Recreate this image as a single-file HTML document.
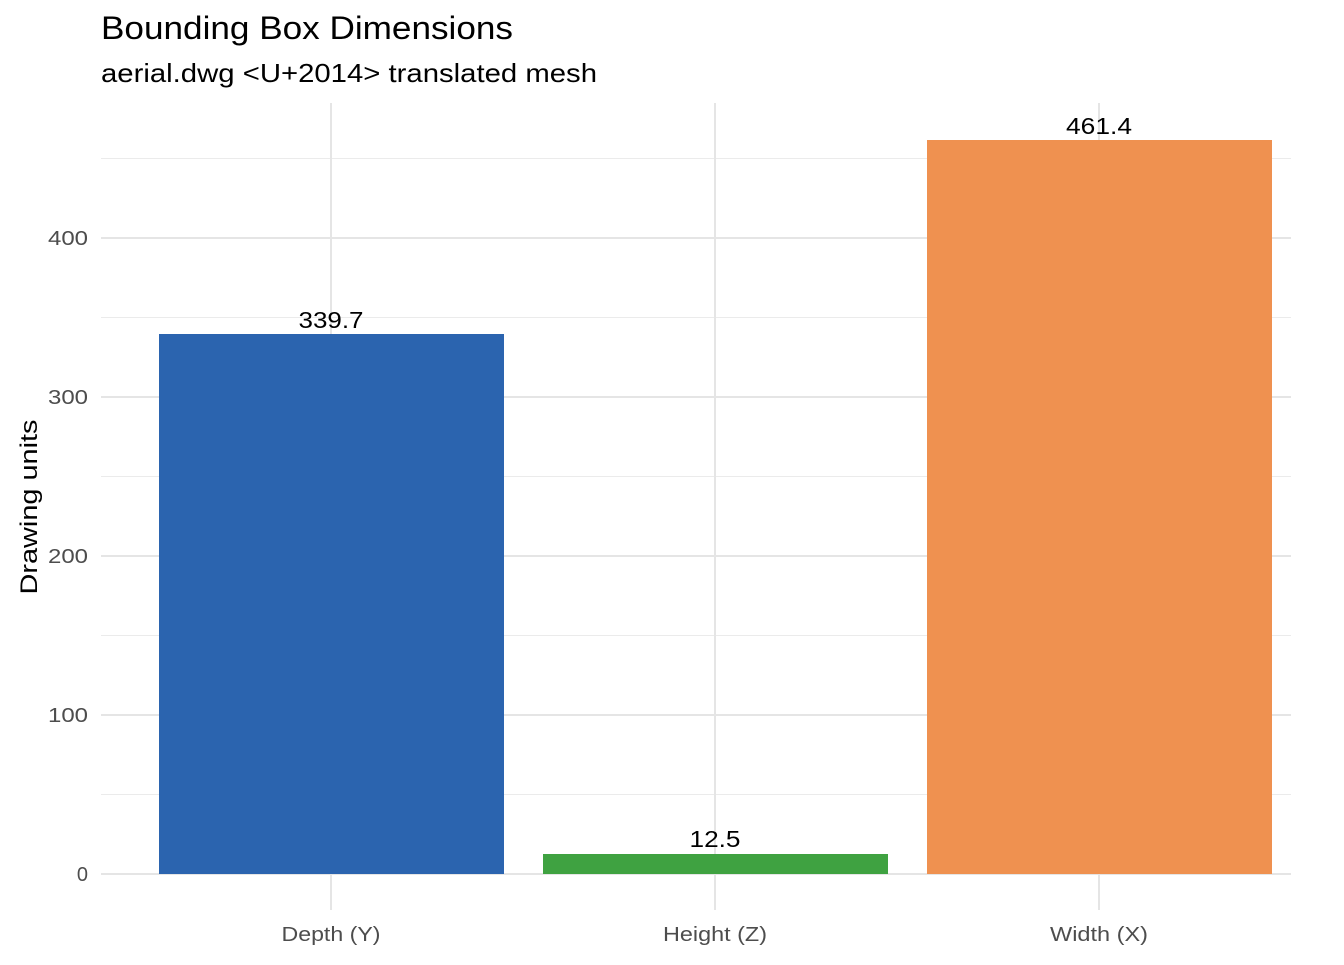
<!DOCTYPE html>
<html><head><meta charset="utf-8"><style>html,body{margin:0;padding:0;background:#fff}</style></head>
<body>
<svg width="1344" height="960" xmlns="http://www.w3.org/2000/svg" font-family="Liberation Sans, Arial, sans-serif">
<rect width="1344" height="960" fill="#fff"/>
<g stroke="#ebebeb" stroke-width="1">
<line x1="101" x2="1291" y1="794.5" y2="794.5"/>
<line x1="101" x2="1291" y1="635.5" y2="635.5"/>
<line x1="101" x2="1291" y1="476.5" y2="476.5"/>
<line x1="101" x2="1291" y1="317.5" y2="317.5"/>
<line x1="101" x2="1291" y1="158.5" y2="158.5"/>
</g>
<g stroke="#e5e5e5" stroke-width="2">
<line x1="101" x2="1291" y1="874" y2="874"/>
<line x1="101" x2="1291" y1="715" y2="715"/>
<line x1="101" x2="1291" y1="556" y2="556"/>
<line x1="101" x2="1291" y1="397" y2="397"/>
<line x1="101" x2="1291" y1="238" y2="238"/>
<line x1="331" x2="331" y1="103" y2="910"/>
<line x1="715" x2="715" y1="103" y2="910"/>
<line x1="1099" x2="1099" y1="103" y2="910"/>
</g>
<rect x="159" y="334" width="345" height="540" fill="#2b64af"/>
<rect x="543" y="854" width="345" height="20" fill="#3fa241"/>
<rect x="927" y="140" width="345" height="734" fill="#ef9150"/>
<g font-size="23" fill="#000" text-anchor="middle" lengthAdjust="spacingAndGlyphs">
<text x="331" y="328" textLength="65" lengthAdjust="spacingAndGlyphs">339.7</text>
<text x="715" y="847" textLength="51" lengthAdjust="spacingAndGlyphs">12.5</text>
<text x="1099" y="134" textLength="66" lengthAdjust="spacingAndGlyphs">461.4</text>
</g>
<g font-size="20" fill="#4d4d4d" text-anchor="end">
<text x="88" y="881">0</text>
<text x="88" y="722" textLength="40" lengthAdjust="spacingAndGlyphs">100</text>
<text x="88" y="563" textLength="40" lengthAdjust="spacingAndGlyphs">200</text>
<text x="88" y="404" textLength="40" lengthAdjust="spacingAndGlyphs">300</text>
<text x="88" y="245" textLength="40" lengthAdjust="spacingAndGlyphs">400</text>
</g>
<g font-size="20" fill="#4d4d4d" text-anchor="middle">
<text x="331" y="941" textLength="99" lengthAdjust="spacingAndGlyphs">Depth (Y)</text>
<text x="715" y="941" textLength="104" lengthAdjust="spacingAndGlyphs">Height (Z)</text>
<text x="1099" y="941" textLength="98" lengthAdjust="spacingAndGlyphs">Width (X)</text>
</g>
<text transform="translate(37,507) rotate(-90)" font-size="24" text-anchor="middle" fill="#000" textLength="175" lengthAdjust="spacingAndGlyphs">Drawing units</text>
<text x="101" y="39" font-size="32" fill="#000" textLength="412" lengthAdjust="spacingAndGlyphs">Bounding Box Dimensions</text>
<text x="101" y="82" font-size="26" fill="#000" textLength="496" lengthAdjust="spacingAndGlyphs">aerial.dwg &lt;U+2014&gt; translated mesh</text>
</svg>
</body></html>
